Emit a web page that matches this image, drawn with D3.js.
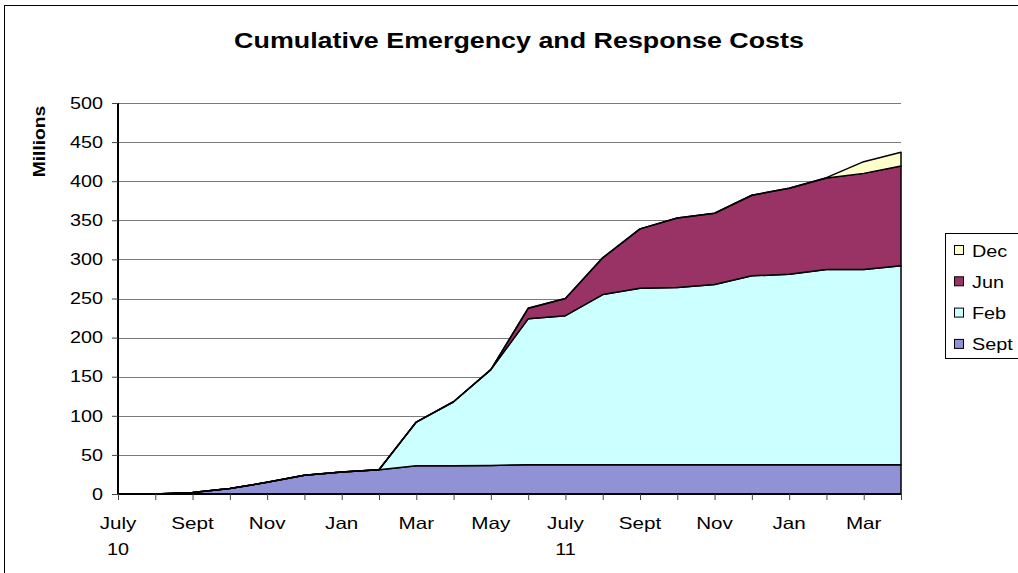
<!DOCTYPE html>
<html>
<head>
<meta charset="utf-8">
<script src="https://cdn.jsdelivr.net/npm/d3@7"></script>
<style>
    body { margin: 0; background: white; }
    svg { font-family: "Liberation Sans", Arial, sans-serif; }
</style>
</head>
<body>
<div id="viz"></div>
<script>
const months = ["Jul10", "Aug10", "Sep10", "Oct10", "Nov10", "Dec10", "Jan11", "Feb11", "Mar11", "Apr11", "May11", "Jun11",
    "Jul11", "Aug11", "Sep11", "Oct11", "Nov11", "Dec11", "Jan12", "Feb12", "Mar12", "Apr12"];
const monthLabels = ["July", "", "Sept", "", "Nov", "", "Jan", "", "Mar", "", "May", "",
    "July", "", "Sept", "", "Nov", "", "Jan", "", "Mar", ""];
const yearLabels = ["10", "", "", "", "", "", "", "", "", "", "", "", "11", "", "", "", "", "", "", "", "", ""];

// millions, per stacked layer
const sept = [0, 0, 2, 7, 15, 24, 28, 31, 36, 36, 36.5, 37.5, 37.5, 37.5, 37.5, 37.5, 37.5, 37.5, 37.5, 37.5, 37.5, 37.5];
const feb = [0, 0, 0, 0, 0, 0, 0, 0, 56, 82, 122.5, 186.5, 190.5, 217.5, 225.5, 226.5, 230.5, 241.5, 243.5, 249.5, 249.5, 254.5];
const jun = [0, 0, 0, 0, 0, 0, 0, 0, 0, 0, 0, 13.5, 22, 47, 76, 89, 91, 103, 110, 117, 123, 127.5];
const dec = [0, 0, 0, 0, 0, 0, 0, 0, 0, 0, 0, 0, 0, 0, 0, 0, 0, 0, 0, 0.5, 15, 17.5];

const seriesNames = ["Sept", "Feb", "Jun", "Dec"];
const seriesColors = ["#9191d6", "#ccffff", "#993366", "#ffffcc"];
const yTicks = [0, 50, 100, 150, 200, 250, 300, 350, 400, 450, 500];

// the original's text is drawn a bit wider than Arial, so widen glyphs along the line
function widen(sel, factor) {
    sel.each(function () {
        const len = this.getComputedTextLength();
        if (len > 0) {
            d3.select(this)
                .attr('textLength', len * factor)
                .attr('lengthAdjust', 'spacingAndGlyphs');
        }
    });
}

document.addEventListener("DOMContentLoaded", () => {
    const width = 1018;
    const height = 573;

    const svg = d3.select('#viz').append('svg')
        .attr('width', width)
        .attr('height', height);

    // outer chart frame
    svg.append('rect')
        .attr('x', 4.5)
        .attr('y', 5.5)
        .attr('width', 1030)
        .attr('height', 600)
        .attr('fill', 'white')
        .attr('stroke', 'black')
        .attr('stroke-width', 1);

    const table = months.map((m, i) => ({ month: m, Sept: sept[i], Feb: feb[i], Jun: jun[i], Dec: dec[i] }));
    const stacked = d3.stack().keys(seriesNames)(table);

    const x = d3.scalePoint().domain(months).range([118, 901]);
    const y = d3.scaleLinear().domain([0, 500]).range([494, 103]);

    svg.append('text')
        .attr('x', 519)
        .attr('y', 48)
        .attr('text-anchor', 'middle')
        .attr('font-size', 22)
        .attr('font-weight', 'bold')
        .text('Cumulative Emergency and Response Costs')
        .call(widen, 1.22);

    // gridlines
    svg.append('g')
        .selectAll('line')
        .data(yTicks.filter(d => d > 0))
        .enter()
        .append('line')
        .attr('x1', 118)
        .attr('x2', 901)
        .attr('y1', d => Math.round(y(d)) + 0.5)
        .attr('y2', d => Math.round(y(d)) + 0.5)
        .attr('stroke', '#7a7a7a')
        .attr('stroke-width', 1);

    const area = d3.area()
        .x(d => x(d.data.month))
        .y0(d => y(d[0]))
        .y1(d => y(d[1]));

    svg.append('g')
        .selectAll('path')
        .data(stacked)
        .enter()
        .append('path')
        .attr('d', area)
        .attr('fill', (d, i) => seriesColors[i])
        .attr('stroke', 'black')
        .attr('stroke-width', 1.5)
        .attr('stroke-linejoin', 'round');

    // y axis
    const yAxis = svg.append('g')
        .attr('transform', 'translate(118,0)')
        .call(d3.axisLeft(y).tickValues(yTicks).tickSize(6).tickPadding(9).tickFormat(d3.format('d')));
    yAxis.select('.domain').attr('stroke-width', 2).attr('d', 'M0,' + y(500) + 'V' + y(0));
    yAxis.selectAll('.tick line').attr('stroke', '#444');
    yAxis.selectAll('.tick text')
        .attr('font-size', 16.5)
        .attr('font-family', '"Liberation Sans", Arial, sans-serif')
        .attr('fill', 'black')
        .call(widen, 1.2);

    // x axis
    const xAxis = svg.append('g')
        .attr('transform', 'translate(0,' + y(0) + ')')
        .call(d3.axisBottom(x).tickSize(6).tickFormat(''));
    xAxis.select('.domain').attr('stroke-width', 2).attr('d', 'M118,0H901');
    xAxis.selectAll('.tick line').attr('stroke', '#444');

    svg.append('g')
        .selectAll('text')
        .data(months)
        .enter()
        .append('text')
        .attr('x', d => x(d))
        .attr('y', 529)
        .attr('text-anchor', 'middle')
        .attr('font-size', 16.5)
        .text((d, i) => monthLabels[i])
        .call(widen, 1.25);

    svg.append('g')
        .selectAll('text')
        .data(months)
        .enter()
        .append('text')
        .attr('x', d => x(d))
        .attr('y', 555)
        .attr('text-anchor', 'middle')
        .attr('font-size', 16.5)
        .text((d, i) => yearLabels[i])
        .call(widen, 1.2);

    svg.append('text')
        .attr('transform', 'translate(45,141.5) rotate(-90)')
        .attr('text-anchor', 'middle')
        .attr('font-size', 16)
        .attr('font-weight', 'bold')
        .text('Millions')
        .call(widen, 1.2);

    // legend
    const legend = svg.append('g');
    legend.append('rect')
        .attr('x', 945.5)
        .attr('y', 233.5)
        .attr('width', 100)
        .attr('height', 125)
        .attr('fill', 'white')
        .attr('stroke', 'black');

    const legendItems = legend.selectAll('g')
        .data(seriesNames.slice().reverse())
        .enter()
        .append('g')
        .attr('transform', (d, i) => 'translate(0,' + (250 + i * 31.3) + ')');

    legendItems.append('rect')
        .attr('x', 954.5)
        .attr('y', -4.5)
        .attr('width', 9)
        .attr('height', 9)
        .attr('fill', d => seriesColors[seriesNames.indexOf(d)])
        .attr('stroke', 'black');

    legendItems.append('text')
        .attr('x', 972)
        .attr('y', 6.5)
        .attr('font-size', 16.5)
        .text(d => d)
        .call(widen, 1.2);
});
</script>
</body>
</html>
